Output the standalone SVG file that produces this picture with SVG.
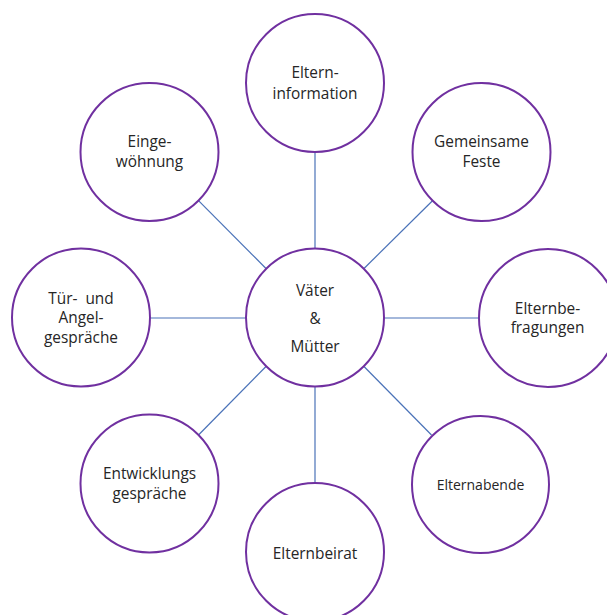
<svg xmlns="http://www.w3.org/2000/svg" width="607" height="615" viewBox="0 0 607 615">
<style>
.n{fill:#fff;stroke:#7030A0;stroke-width:2}
.t{font-family:"Open Sans","Liberation Sans",sans-serif;font-size:15.4px;fill:#262626;text-anchor:middle}
.s{font-size:14px}
.c line{stroke:#4A72B8;stroke-width:1.2}
</style>
<rect width="607" height="615" fill="#fff"/>
<g id="connectors" class="c">
<line x1="315" y1="248.5" x2="315" y2="152"/>
<line x1="364" y1="268.5" x2="432.5" y2="200.7"/>
<line x1="384" y1="318" x2="479" y2="318"/>
<line x1="364" y1="366.5" x2="431.5" y2="435"/>
<line x1="315" y1="386.5" x2="315" y2="483"/>
<line x1="266" y1="366.5" x2="198.5" y2="435"/>
<line x1="246" y1="318" x2="150" y2="318"/>
<line x1="266" y1="268.5" x2="198.5" y2="200.7"/>
</g>
<g id="center"><circle class="n" cx="315" cy="317.5" r="69"/>
<text class="t" x="315" y="296">Väter</text><text class="t" x="315" y="324">&amp;</text><text class="t" x="315" y="352">Mütter</text></g>
<g id="elterninformation"><circle class="n" cx="315" cy="83" r="69"/>
<text class="t" x="315" y="78">Eltern-</text><text class="t" x="315" y="99">information</text></g>
<g id="gemeinsame-feste"><circle class="n" cx="481.5" cy="152" r="69"/>
<text class="t" x="481.5" y="147">Gemeinsame</text><text class="t" x="481.5" y="167">Feste</text></g>
<g id="elternbefragungen"><circle class="n" cx="548" cy="318" r="69"/>
<text class="t" x="547.5" y="314">Elternbe-</text><text class="t" x="547.5" y="333">fragungen</text></g>
<g id="elternabende"><circle class="n" cx="480.5" cy="484.5" r="68.5"/>
<text class="t s" x="480.5" y="490">Elternabende</text></g>
<g id="elternbeirat"><circle class="n" cx="315" cy="552" r="69"/>
<text class="t" x="315" y="559">Elternbeirat</text></g>
<g id="entwicklungsgespraeche"><circle class="n" cx="149.5" cy="483.5" r="69"/>
<text class="t" x="149.5" y="479">Entwicklungs</text><text class="t" x="149.5" y="499">gespräche</text></g>
<g id="tuer-und-angelgespraeche"><circle class="n" cx="81" cy="317.5" r="69"/>
<text class="t" x="81" y="304" xml:space="preserve">Tür-  und</text><text class="t" x="81" y="323">Angel-</text><text class="t" x="81" y="343">gespräche</text></g>
<g id="eingewoehnung"><circle class="n" cx="149.5" cy="152" r="69"/>
<text class="t" x="149.5" y="147">Einge-</text><text class="t" x="149.5" y="167">wöhnung</text></g>
</svg>
